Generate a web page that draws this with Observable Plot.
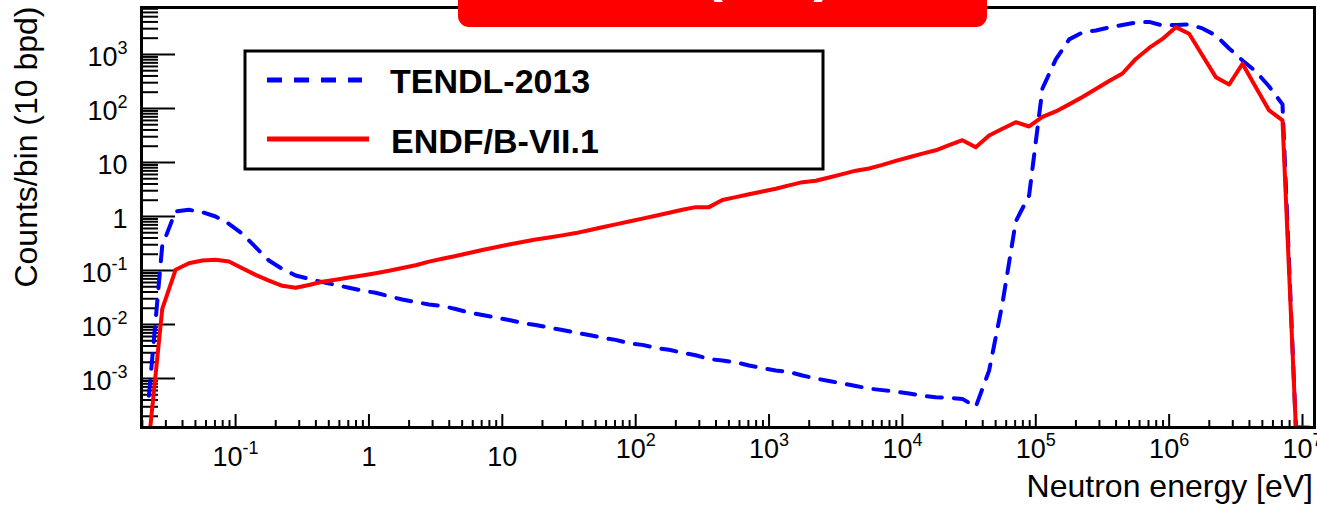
<!DOCTYPE html>
<html><head><meta charset="utf-8">
<script src="https://cdn.jsdelivr.net/npm/d3@7"></script>
<script src="https://cdn.jsdelivr.net/npm/@observablehq/plot@0.6"></script>
<style>
html,body{margin:0;padding:0;background:#fff;overflow:hidden;}
#chart{position:relative;width:1317px;height:505px;}
</style></head><body><div id="chart"></div>
<script>
// Bin centres, log10(E/eV), 10 bins per decade
const logEnergy = [
 -1.65,-1.55,-1.45,-1.35,-1.25,-1.15,-1.05,-0.95,-0.85,-0.75,-0.65,-0.55,-0.45,-0.35,-0.25,-0.15,-0.05,
 0.05,0.15,0.25,0.35,0.45,0.55,0.65,0.75,0.85,0.95,
 1.05,1.15,1.25,1.35,1.45,1.55,1.65,1.75,1.85,1.95,
 2.05,2.15,2.25,2.35,2.45,2.55,2.65,2.75,2.85,2.95,
 3.05,3.15,3.25,3.35,3.45,3.55,3.65,3.75,3.85,3.95,
 4.05,4.15,4.25,4.35,4.45,4.55,4.65,4.75,4.85,4.95,
 5.05,5.15,5.25,5.35,5.45,5.55,5.65,5.75,5.85,5.95,
 6.05,6.15,6.25,6.35,6.45,6.55,6.65,6.75,6.85,6.95,
 7.05];
const tendl = [
 4.8e-4,0.29,1.24,1.33,1.20,1.0,0.73,0.48,0.27,0.153,0.107,0.081,0.070,0.061,0.054,0.048,0.0426,
 0.0387,0.0334,0.029,0.0261,0.0235,0.022,0.0194,0.0167,0.015,0.0135,
 0.0121,0.0107,0.0098,0.0088,0.0079,0.0071,0.0064,0.0057,0.0052,0.0045,
 0.0042,0.0037,0.0034,0.0030,0.0027,0.0023,0.00215,0.0020,0.00174,0.00156,
 0.00141,0.00132,0.00114,0.00100,0.00090,0.00081,0.00073,0.00065,0.00061,0.00057,
 0.00053,0.00048,0.00045,0.00044,0.00042,0.00030,0.0014,0.0245,0.81,2.45,
 234,808,1900,2550,2780,3160,3520,3910,4000,3440,
 3520,3590,3030,2250,1290,774,484,255,119,0,
 0];
const endf = [
 7e-5,0.0195,0.103,0.136,0.153,0.158,0.147,0.110,0.083,0.065,0.052,0.048,0.054,0.062,0.0675,0.074,0.081,
 0.089,0.099,0.111,0.125,0.146,0.165,0.186,0.211,0.239,0.270,
 0.302,0.336,0.375,0.409,0.447,0.493,0.557,0.631,0.714,0.808,
 0.914,1.03,1.17,1.33,1.49,1.49,2.02,2.28,2.58,2.90,
 3.27,3.77,4.32,4.60,5.27,6.10,7.05,7.74,9.03,10.7,
 12.5,14.6,16.8,20.9,25.9,19.2,31.6,42.1,55.7,46.4,
 69.6,88,119,163,230,323,444,826,1320,1940,
 3200,2420,958,380,278,673,248,91.8,60,0,
 0];
const seriesNames = ["TENDL-2013", "ENDF/B-VII.1"];
const seriesColors = ["#0000ff", "#ff0000"];
const xTickValues = [1e-1, 1, 10, 1e2, 1e3, 1e4, 1e5, 1e6, 1e7];
const xTickLabels = ["10^-1", "1", "10", "10^2", "10^3", "10^4", "10^5", "10^6", "10^7"];
const yTickValues = [1e-3, 1e-2, 1e-1, 1, 10, 1e2, 1e3];
const yTickLabels = ["10^-3", "10^-2", "10^-1", "1", "10", "10^2", "10^3"];
const xTitle = "Neutron energy [eV]";
const yTitle = "Counts/bin (10 bpd)";
const plotTitle = "(α,n)";

const W = 1317, H = 505, mL = 141, mR = 3, mT = 7, mB = 78;
const innerW = W - mL - mR, innerH = H - mT - mB;
const xDomain = [0.0197, 1.23e7];
const yDomain = [1.24e-4, 7400];
const FONT = "'Liberation Sans', Arial, Helvetica, sans-serif";

function minorTicks(lo, hi) {
  const out = [];
  for (let e = Math.floor(Math.log10(lo)); e <= Math.ceil(Math.log10(hi)); e++)
    for (let m = 2; m <= 9; m++) { const v = m * Math.pow(10, e); if (v >= lo && v <= hi) out.push(v); }
  return out;
}
const xMinor = minorTicks(...xDomain);
const yMinor = minorTicks(...yDomain);

const rows = (vals, s) => logEnergy.map((le, i) => ({E: Math.pow(10, le), v: vals[i], s}));
const dataT = rows(tendl, seriesNames[0]);
const dataE = rows(endf, seriesNames[1]);
const yv = d => d.v > 0 ? d.v : yDomain[0];
const xFmt = new Map(xTickValues.map((v, i) => [v, xTickLabels[i]]));
const yFmt = new Map(yTickValues.map((v, i) => [v, yTickLabels[i]]));

const svg = Plot.plot({
  width: W, height: H,
  marginLeft: mL, marginRight: mR, marginTop: mT, marginBottom: mB,
  style: {fontFamily: FONT, fontSize: "27px", color: "black", background: "white", overflow: "visible"},
  x: {type: "log", domain: xDomain, axis: null},
  y: {type: "log", domain: yDomain, axis: null},
  marks: [
    Plot.tickX(xMinor, {x: d => d, insetTop: innerH - 7, stroke: "black", strokeWidth: 2}),
    Plot.tickX(xTickValues, {x: d => d, insetTop: innerH - 13, stroke: "black", strokeWidth: 2}),
    Plot.tickY(yMinor, {y: d => d, insetRight: innerW - 17, stroke: "black", strokeWidth: 2}),
    Plot.tickY(yTickValues, {y: d => d, insetRight: innerW - 34, stroke: "black", strokeWidth: 2}),
    Plot.line(dataT, {x: "E", y: yv, stroke: seriesColors[0], strokeWidth: 4, strokeDasharray: "15,12", clip: true}),
    Plot.line(dataE, {x: "E", y: yv, stroke: seriesColors[1], strokeWidth: 4, clip: true}),
    Plot.frame({stroke: "black", strokeWidth: 3}),
    Plot.axisX({ticks: xTickValues, tickFormat: d => xFmt.get(d), tickSize: 0, tickPadding: 19, fontSize: 27, label: null}),
    Plot.axisY({ticks: yTickValues, tickFormat: d => yFmt.get(d), tickSize: 0, tickPadding: 14, fontSize: 27, dy: 3, label: null})
  ]
});

// superscripts for powers of ten
const NS = "http://www.w3.org/2000/svg";
svg.querySelectorAll('g[aria-label="x-axis tick label"] text, g[aria-label="y-axis tick label"] text').forEach(t => {
  const s = t.textContent, i = s.indexOf("^");
  if (i < 0) return;
  const isX = t.parentNode.getAttribute("aria-label").startsWith("x");
  const exp = s.slice(i + 1);
  t.textContent = s.slice(0, i);
  const ts = document.createElementNS(NS, "tspan");
  ts.setAttribute("font-size", "18");
  ts.setAttribute("dy", "-12");
  ts.textContent = exp;
  t.appendChild(ts);
  if (isX && exp[0] !== "-") {
    const tr = t.getAttribute("transform") || "";
    t.setAttribute("transform", tr + " translate(0,-8)");
  }
});

const g = d3.select(svg).append("g").attr("font-family", FONT).attr("text-anchor", "start");
// title box (mostly outside the picture)
g.append("rect").attr("x", 458).attr("y", -14).attr("width", 529).attr("height", 41).attr("rx", 11).attr("fill", "#ff0000");
g.append("text").attr("x", 703).attr("y", -10).attr("text-anchor", "start").attr("font-size", 60).attr("font-weight", "bold").attr("fill", "white").text(plotTitle);
// legend
g.append("rect").attr("x", 245).attr("y", 51).attr("width", 578).attr("height", 118)
  .attr("fill", "white").attr("stroke", "black").attr("stroke-width", 3);
g.append("line").attr("x1", 267).attr("x2", 362).attr("y1", 80).attr("y2", 80)
  .attr("stroke", seriesColors[0]).attr("stroke-width", 5).attr("stroke-dasharray", "15,12");
g.append("line").attr("x1", 267).attr("x2", 369).attr("y1", 139).attr("y2", 139)
  .attr("stroke", seriesColors[1]).attr("stroke-width", 5);
g.append("text").attr("x", 390).attr("y", 93).attr("text-anchor", "start").attr("font-size", 34).attr("font-weight", "bold").text(seriesNames[0]);
g.append("text").attr("x", 391).attr("y", 153).attr("text-anchor", "start").attr("font-size", 34).attr("font-weight", "bold").text(seriesNames[1]);
// axis titles
g.append("text").attr("x", 1313).attr("y", 497).attr("text-anchor", "end").attr("font-size", 32).text(xTitle);
g.append("text").attr("transform", "translate(37,147) rotate(-90)").attr("text-anchor", "middle").attr("font-size", 32).text(yTitle);

document.getElementById("chart").appendChild(svg);
</script></body></html>
